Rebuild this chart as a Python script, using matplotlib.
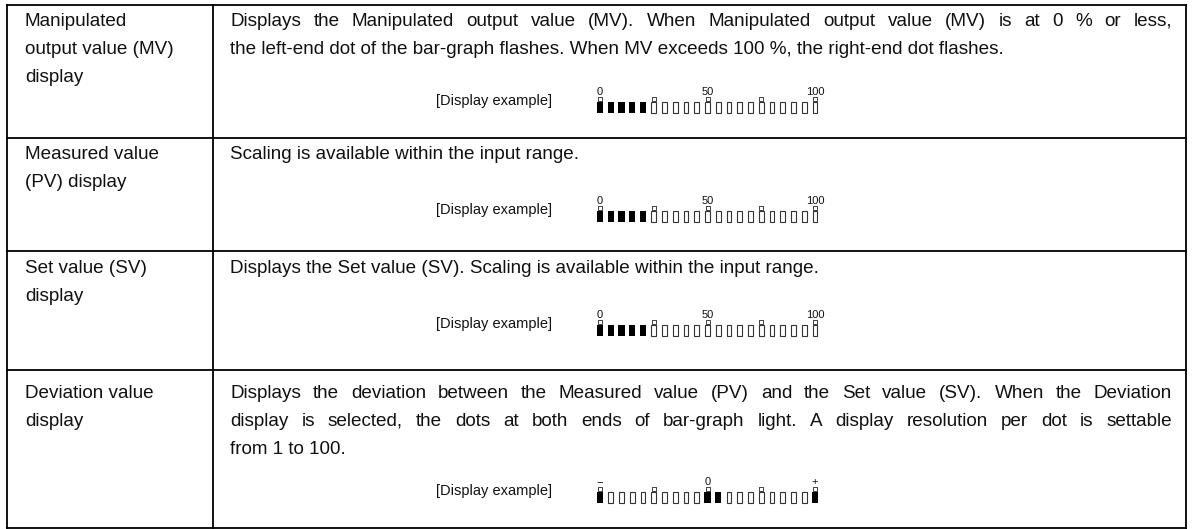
import matplotlib.pyplot as plt
import numpy as np

plt.rcParams['font.family'] = ['Liberation Sans', 'DejaVu Sans']

W, H = 1192, 529

# table content
row_titles = [
    ["Manipulated", "output value (MV)", "display"],
    ["Measured value", "(PV) display"],
    ["Set value (SV)", "display"],
    ["Deviation value", "display"],
]
row_texts = [
    ["Displays the Manipulated output value (MV). When Manipulated output value (MV) is at 0 % or less,",
     "the left-end dot of the bar-graph flashes. When MV exceeds 100 %, the right-end dot flashes."],
    ["Scaling is available within the input range."],
    ["Displays the Set value (SV). Scaling is available within the input range."],
    ["Displays the deviation between the Measured value (PV) and the Set value (SV). When the Deviation",
     "display is selected, the dots at both ends of bar-graph light. A display resolution per dot is settable",
     "from 1 to 100."],
]
# which lines are justified to the full cell width
row_justify = [[True, False], [False], [False], [True, True, False]]

# bar-graph examples: 21 dots
cells = np.arange(21)
mv_lit = [1, 1, 1, 1, 1, 0, 0, 0, 0, 0, 0, 0, 0, 0, 0, 0, 0, 0, 0, 0, 0]
pv_lit = [1, 1, 1, 1, 1, 0, 0, 0, 0, 0, 0, 0, 0, 0, 0, 0, 0, 0, 0, 0, 0]
sv_lit = [1, 1, 1, 1, 1, 0, 0, 0, 0, 0, 0, 0, 0, 0, 0, 0, 0, 0, 0, 0, 0]
dev_lit = [1, 0, 0, 0, 0, 0, 0, 0, 0, 0, 1, 1, 0, 0, 0, 0, 0, 0, 0, 0, 1]
marker_cells = [0, 5, 10, 15, 20]
scale_cells = [0, 10, 20]
scale_labels = ["0", "50", "100"]
dev_scale_labels = ["\u2212", "0", "+"]

bar_lits = [mv_lit, pv_lit, sv_lit, dev_lit]
bar_labels = [scale_labels, scale_labels, scale_labels, dev_scale_labels]

# layout (pixels)
row_lines = [5, 138, 251, 370, 528]
x_left, x_div, x_right = 7, 213, 1186
line_gap = 28
text_top = [26, 159, 273, 398]
bar_bottom = [113, 222, 336, 503]

fig = plt.figure(figsize=(W / 100, H / 100), dpi=100)
ax = fig.add_axes([0, 0, 1, 1])
ax.set_xlim(0, W)
ax.set_ylim(H, 0)
ax.axis('off')

lw = 1.3
for y in row_lines:
    ax.plot([x_left, x_right], [y, y], color='black', lw=lw, solid_capstyle='projecting')
for x in [x_left, x_div, x_right]:
    ax.plot([x, x], [row_lines[0], row_lines[-1]], color='black', lw=lw, solid_capstyle='projecting')

fs = 13.6
renderer = fig.canvas.get_renderer()


def draw_line(x0, x1, y, text, justify):
    if not justify:
        ax.text(x0, y, text, fontsize=fs, va='baseline', ha='left', color='#111111')
        return
    words = text.split(' ')
    objs = [ax.text(0, y, w, fontsize=fs, va='baseline', ha='left', color='#111111') for w in words]
    widths = [o.get_window_extent(renderer).width for o in objs]
    gap = (x1 - x0 - sum(widths)) / (len(words) - 1)
    x = x0
    for o, w in zip(objs, widths):
        o.set_x(x)
        x += w + gap


for i in range(4):
    for j, t in enumerate(row_titles[i]):
        ax.text(25, text_top[i] + j * line_gap, t, fontsize=fs, va='baseline', color='#111111')
    for j, t in enumerate(row_texts[i]):
        draw_line(230, 1172, text_top[i] + j * line_gap, t, row_justify[i][j])

    # display example
    bb = bar_bottom[i]
    ax.text(552, bb - 12, "[Display example]", fontsize=10.5, ha='right', va='center', color='#111111')

    pitch = 10.75
    x0 = 600 - pitch / 2
    unit = 11
    bax = fig.add_axes([x0 / W, 1 - bb / H, 21 * pitch / W, 3 * unit / H])
    bax.set_xlim(-0.5, 20.5)
    bax.set_ylim(0, 3)
    bax.axis('off')
    lit = np.array(bar_lits[i])
    bax.bar(cells[lit == 1], 1, width=0.58, bottom=0, color='black', align='center')
    bax.bar(cells[lit == 0], 0.92, width=0.46, bottom=0.04, facecolor='white',
            edgecolor='#333333', linewidth=0.8, align='center', clip_on=False)
    bax.scatter(marker_cells, [1.27] * len(marker_cells), marker='s', s=6,
                facecolor='white', edgecolor='#222222', linewidths=0.6)
    for c, lab in zip(scale_cells, bar_labels[i]):
        bax.text(c, 1.9, lab, fontsize=8, ha='center', va='center', color='#111111')

fig.savefig('out.png', dpi=100)
